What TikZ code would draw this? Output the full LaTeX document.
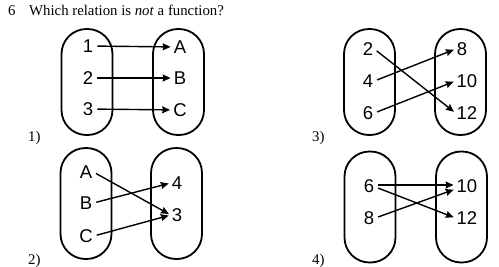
\documentclass[tikz,border=0pt]{standalone}
\usepackage{fontspec}
\setmainfont{Liberation Serif}
\newfontfamily\elemfont{Liberation Sans}
\usetikzlibrary{
  arrows.meta,
  positioning
}
\tikzset{
  set/.style = {
    draw,
    line width=1.8pt,
    rounded corners=25pt,
    minimum width=51pt,
    minimum height=#1
  },
  elem/.style = {font=\elemfont\fontsize{18.5}{18.5}\selectfont, inner sep=1pt},
  map/.style = {
    line width=1.4pt,
    -{Stealth[length=8pt,width=7pt,inset=1pt]},
    shorten <=3pt,
    shorten >=2pt
  },
  choice/.style = {font=\fontsize{14.8}{14.8}\selectfont, anchor=base west, inner sep=0pt},
}

\begin{document}
\begin{tikzpicture}[x=1pt,y=-1pt]
				\useasboundingbox (0,0) rectangle (499,266);
				
				% question
				\node[choice] (qnum) at (8,15.5) {6};
				\node[choice] (qtext) at (29,15.5) {Which relation is \textit{not} a function?};
				
				% 1)
				\node[set=106pt] (d1) at (87,82) {};
				\node[set=106pt] (r1) at (178.5,82) {};
				\node[elem] (d1a) at (88,46) {1};
				\node[elem] (d1b) at (88,78) {2};
				\node[elem] (d1c) at (88,109) {3};
				\node[elem] (r1a) at (180,47) {A};
				\node[elem] (r1b) at (180,78) {B};
				\node[elem] (r1c) at (180,110) {C};
				\draw[map] (d1a) -- (r1a);
				\draw[map] (d1b) -- (r1b);
				\draw[map] (d1c) -- (r1c);
				\node[choice] (c1) at (28,141) {1)};
				
				% 2)
				\node[set=111pt] (d2) at (86,203.5) {};
				\node[set=111pt] (r2) at (176.5,203.5) {};
				\node[elem] (d2a) at (86,172) {A};
				\node[elem] (d2b) at (86,203) {B};
				\node[elem] (d2c) at (86,236) {C};
				\node[elem] (r2a) at (177,183) {4};
				\node[elem] (r2b) at (177,215) {3};
				\draw[map] (d2a.east) -- (r2b.west);
				\draw[map] (d2b.east) -- (r2a.west);
				\draw[map] (d2c.east) -- (r2b.west);
				\node[choice] (c2) at (28,264) {2)};
				
				% 3)
				\node[set=106pt] (d3) at (369.5,82) {};
				\node[set=106pt] (r3) at (460.5,82) {};
				\node[elem] (d3a) at (368,49) {2};
				\node[elem] (d3b) at (368,81) {4};
				\node[elem] (d3c) at (368,113) {6};
				\node[elem] (r3a) at (462,49) {8};
				\node[elem] (r3b) at (467,81) {10};
				\node[elem] (r3c) at (467,113) {12};
				\draw[map] (d3a.east) -- (r3c.west);
				\draw[map] (d3b.east) -- (r3a.west);
				\draw[map] (d3c.east) -- (r3b.west);
				\node[choice] (c3) at (312,141) {3)};
				
				% 4)
				\node[set=111pt] (d4) at (370,207) {};
				\node[set=111pt] (r4) at (461.5,207) {};
				\node[elem] (d4a) at (369,186) {6};
				\node[elem] (d4b) at (369,218) {8};
				\node[elem] (r4a) at (467,186) {10};
				\node[elem] (r4b) at (467,218) {12};
				\draw[map] ([yshift=1pt]d4a.east) -- ([yshift=1pt]r4a.west);
				\draw[map] ([yshift=-1pt]d4a.east) -- (r4b.west);
				\draw[map] (d4b.east) -- ([yshift=-3pt]r4a.west);
				\node[choice] (c4) at (312,264) {4)};
		\end{tikzpicture}
\end{document}
